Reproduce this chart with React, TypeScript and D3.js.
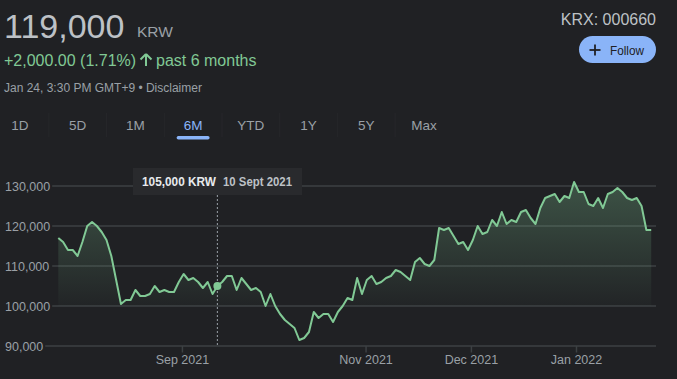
import React, { useEffect } from "react";
import * as d3 from "d3";

const prices: number[] = [
  117000, 116000, 114000, 114000, 112500, 116000, 120000, 121000, 120000, 118500,
  116500, 112500, 106500, 100500, 101500, 101500, 104000, 102500, 102500, 103000,
  105000, 103500, 104000, 103500, 103500, 106000, 108000, 106500, 107000, 106000,
  104500, 106000, 103000, 105000, 106000, 107500, 107500, 104000, 107000, 105500,
  104000, 104500, 103500, 100000, 103000, 100000, 98000, 96500, 95500, 94500,
  91500, 92000, 93500, 98500, 97000, 98000, 98000, 96000, 98500, 100000,
  102000, 101500, 107000, 103000, 106500, 107500, 105500, 106000, 107000, 107500,
  109000, 108500, 107500, 106500, 111000, 112000, 110500, 110000, 111500, 119500,
  119000, 119500, 117500, 115500, 116000, 114000, 116500, 120000, 118000, 118500,
  121500, 120000, 123500, 120500, 121500, 121000, 123500, 124000, 122000, 120500,
  124500, 127000, 127500, 128000, 126000, 127500, 127000, 131000, 128500, 128500,
  125500, 125000, 127000, 124500, 128000, 128500, 129500, 128500, 127000, 126500,
  127000, 125000, 119000, 119000,
];

const yTicks: number[] = [90000, 100000, 110000, 120000, 130000];
const xTickLabels: string[] = ["Sep 2021", "Nov 2021", "Dec 2021", "Jan 2022"];
const xTickPos: number[] = [25.75, 63.85, 85.7, 107.5];
const tabs: string[] = ["1D", "5D", "1M", "6M", "YTD", "1Y", "5Y", "Max"];
const activeTab = "6M";
const tooltipIndex = 33;
const tooltipDate = "10 Sept 2021";
const areaBase = 100000;

const FONT = "Arial, 'Liberation Sans', sans-serif";
const BG = "#202124";
const GREEN = "#81c995";

export default function App() {
  useEffect(() => {
    document.body.style.margin = "0";
    document.body.style.background = BG;
  }, []);

  const W = 677, H = 379;
  const x = d3.scaleLinear().domain([0, prices.length - 1]).range([58.3, 651.2]);
  const y = d3.scaleLinear().domain([90000, 130000]).range([346, 186]);

  const line = d3.line<number>().x((_, i) => x(i)).y((d) => y(d));
  const area = d3
    .area<number>()
    .x((_, i) => x(i))
    .y0(y(areaBase))
    .y1((d) => y(d));

  const fmt = d3.format(",");
  const labelWidth = (s: string) => {
    let w = 0;
    for (const c of s) w += c === "," ? 3.47 : 6.95;
    return w;
  };

  const tabCenters = tabs.map((_, i) => 20 + i * 57.7);
  const tx = x(tooltipIndex);
  const ty = y(prices[tooltipIndex]);

  return (
    <svg
      width={W}
      height={H}
      style={{ position: "fixed", left: 0, top: 0, background: BG, display: "block" }}
      fontFamily={FONT}
    >
      <defs>
        <linearGradient id="areaGrad" x1="0" y1={y(131000)} x2="0" y2={y(areaBase)} gradientUnits="userSpaceOnUse">
          <stop offset="0%" stopColor={GREEN} stopOpacity={0.3} />
          <stop offset="100%" stopColor={GREEN} stopOpacity={0.02} />
        </linearGradient>
        <clipPath id="aboveBase">
          <rect x={0} y={0} width={W} height={y(areaBase)} />
        </clipPath>
      </defs>

      {/* Header */}
      <text x={4} y={37.5} fontSize={34} fill="#bdc1c6">{fmt(prices[prices.length - 1])}</text>
      <text x={137} y={37} fontSize={15.5} fill="#9aa0a6">KRW</text>
      <text x={4} y={66} fontSize={16} fill={GREEN}>+2,000.00 (1.71%)</text>
      <g fill={GREEN} stroke={GREEN}>
        <path d="M146 54 L140.5 59.5 M146 54 L151.5 59.5" strokeWidth={2} fill="none" />
        <line x1={146} y1={55} x2={146} y2={66} strokeWidth={2} />
      </g>
      <text x={156} y={66} fontSize={16} fill={GREEN}>past 6 months</text>
      <text x={4} y={91.5} fontSize={12} fill="#9aa0a6">Jan 24, 3:30 PM GMT+9 • Disclaimer</text>

      <text x={656} y={25} fontSize={16} fill="#bdc1c6" textAnchor="end">KRX: 000660</text>
      <rect x={579} y={36} width={77} height={27} rx={13.5} fill="#8ab4f8" />
      <line x1={589.5} y1={50} x2={600.5} y2={50} stroke="#202124" strokeWidth={1.8} />
      <line x1={595} y1={44.5} x2={595} y2={55.5} stroke="#202124" strokeWidth={1.8} />
      <text x={610} y={54.5} fontSize={13} fill="#202124" textLength={34} lengthAdjust="spacingAndGlyphs">Follow</text>

      {/* Tabs */}
      {tabs.map((t, i) => (
        <g key={t}>
          {i > 0 && (
            <line x1={tabCenters[i] - 28.8} x2={tabCenters[i] - 28.8} y1={113} y2={137} stroke="#26272a" strokeWidth={1} />
          )}
          <text
            x={tabCenters[i]}
            y={130}
            fontSize={13.5}
            textAnchor="middle"
            fill={t === activeTab ? "#8ab4f8" : "#9aa0a6"}
          >
            {t}
          </text>
          {t === activeTab && (
            <rect x={tabCenters[i] - 16.5} y={136} width={33} height={3.5} rx={1.75} fill="#8ab4f8" />
          )}
        </g>
      ))}

      {/* Grid + y labels */}
      {yTicks.map((v) => {
        const s = fmt(v);
        return (
          <g key={v}>
            <line x1={5 + labelWidth(s) + 2} x2={656} y1={y(v)} y2={y(v)} stroke="#3c4043" strokeWidth={1.5} />
            <text x={5} y={y(v) + 4.5} fontSize={12.5} fill="#9aa0a6">{s}</text>
          </g>
        );
      })}

      {/* x ticks */}
      {xTickPos.map((p, i) => (
        <g key={xTickLabels[i]}>
          <line x1={x(p)} x2={x(p)} y1={346} y2={352.5} stroke="#3c4043" strokeWidth={1.5} />
          <text x={x(p)} y={363.5} fontSize={12.5} fill="#9aa0a6" textAnchor="middle">{xTickLabels[i]}</text>
        </g>
      ))}

      {/* Area + line */}
      <path d={area(prices) || ""} fill="url(#areaGrad)" clipPath="url(#aboveBase)" />
      <path d={line(prices) || ""} fill="none" stroke={GREEN} strokeWidth={2} strokeLinejoin="round" />

      {/* Tooltip */}
      <line x1={tx} x2={tx} y1={195} y2={347} stroke="#9aa0a6" strokeWidth={1} strokeDasharray="2,2" />
      <circle cx={tx} cy={ty} r={4} fill={GREEN} />
      <rect x={133} y={168} width={169} height={27} fill="#292a2d" />
      <text x={142} y={186} fontSize={12.5} fontWeight="bold" fill="#e8eaed" textLength={74} lengthAdjust="spacingAndGlyphs">{fmt(prices[tooltipIndex])} KRW</text>
      <text x={223} y={186} fontSize={12.5} fontWeight="bold" fill="#bdc1c6" textLength={69} lengthAdjust="spacingAndGlyphs">{tooltipDate}</text>
    </svg>
  );
}
